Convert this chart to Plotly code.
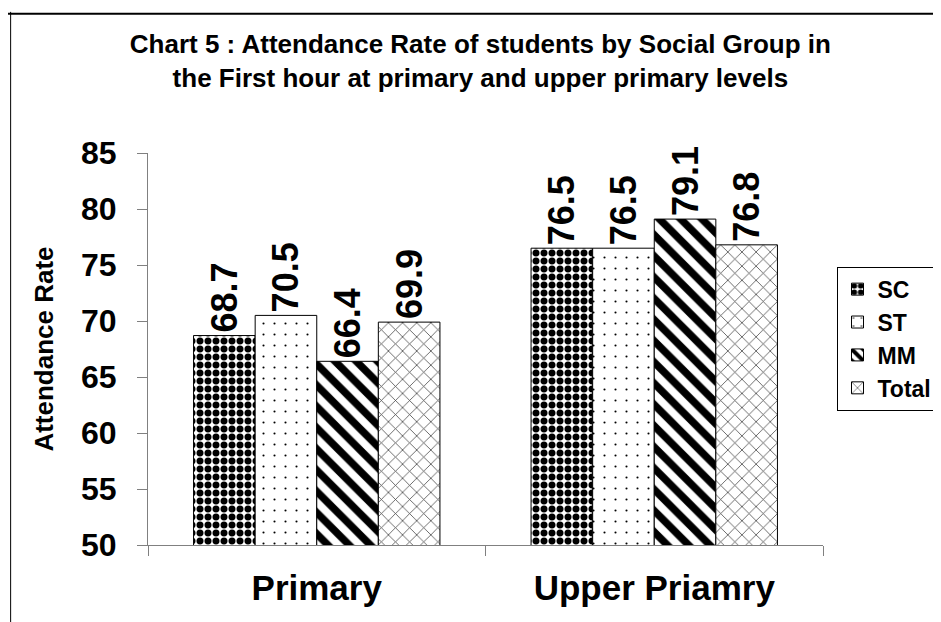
import plotly.graph_objects as go

levels = ['Primary', 'Upper Priamry']
groups = ['SC', 'ST', 'MM', 'Total']
sc = [68.7, 76.5]
st = [70.5, 76.5]
mm = [66.4, 79.1]
total = [69.9, 76.8]
y_ticks = [50, 55, 60, 65, 70, 75, 80, 85]

FONT = 'Liberation Sans, Arial, sans-serif'

# pattern for each social group (shape, size, solidity, colour)
patterns = {
    'SC': dict(shape='.', size=8, solidity=0.6, fgcolor='black'),
    'ST': dict(shape='.', size=11, solidity=0.03, fgcolor='black'),
    'MM': dict(shape='\\', size=15, solidity=0.5, fgcolor='black'),
    'Total': dict(shape='x', size=10, solidity=0.15, fgcolor='#444444'),
}

fig = go.Figure()
for name, vals in zip(groups, [sc, st, mm, total]):
    fig.add_bar(
        name=name, x=levels, y=vals,
        text=[f'{v:.1f}' for v in vals],
        textposition='outside', textangle=-90, constraintext='none',
        cliponaxis=False,
        textfont=dict(family=FONT, size=36, color='black', weight='bold'),
        marker=dict(color='white', line=dict(color='black', width=1),
                    pattern=dict(bgcolor='white', fillmode='replace',
                                 **patterns[name])),
    )

# outer chart frame (left and top edges only are visible)
fig.add_shape(type='line', xref='paper', yref='paper',
              x0=-0.2035, x1=-0.2035, y0=-0.3, y1=1.36,
              line=dict(color='black', width=1))
fig.add_shape(type='line', xref='paper', yref='paper',
              x0=-0.21, x1=1.3, y0=1.355, y1=1.355,
              line=dict(color='black', width=2), layer='above')

fig.update_layout(
    width=941, height=622,
    margin=dict(l=140, r=123, t=145, b=85),
    paper_bgcolor='white', plot_bgcolor='white',
    font=dict(family=FONT, color='black'),
    barmode='group', bargap=0.27, bargroupgap=0,
    title=dict(
        text='Chart 5 : Attendance Rate of students by Social Group in<br>'
             'the First hour at primary and upper primary levels',
        x=0.502, xref='container', xanchor='center',
        y=0.928, yref='container', yanchor='middle',
        font=dict(family=FONT, size=26, color='black', weight='bold'),
    ),
    legend=dict(
        x=1.02, xanchor='left', y=0.71, yanchor='top',
        font=dict(family=FONT, size=23, color='black', weight='bold'),
        bordercolor='black', borderwidth=1, bgcolor='white',
        itemwidth=30, tracegroupgap=0,
    ),
    showlegend=True,
)

fig.update_yaxes(
    range=[50, 85], tickvals=y_ticks,
    showline=True, linecolor='#808080', linewidth=1,
    ticks='outside', ticklen=10, tickcolor='#808080',
    showgrid=False, zeroline=False,
    tickfont=dict(family=FONT, size=32, color='black', weight='bold'),
    ticklabelstandoff=14,
    title=dict(text='Attendance Rate', standoff=19,
               font=dict(family=FONT, size=26, color='black', weight='bold')),
)
fig.update_xaxes(
    showline=True, linecolor='#808080', linewidth=1,
    ticks='outside', ticklen=10, tickcolor='#808080',
    tickson='boundaries', showgrid=False,
    tickfont=dict(family=FONT, size=35, color='black', weight='bold'),
    ticklabelstandoff=12,
)

fig.write_html('out.html')
